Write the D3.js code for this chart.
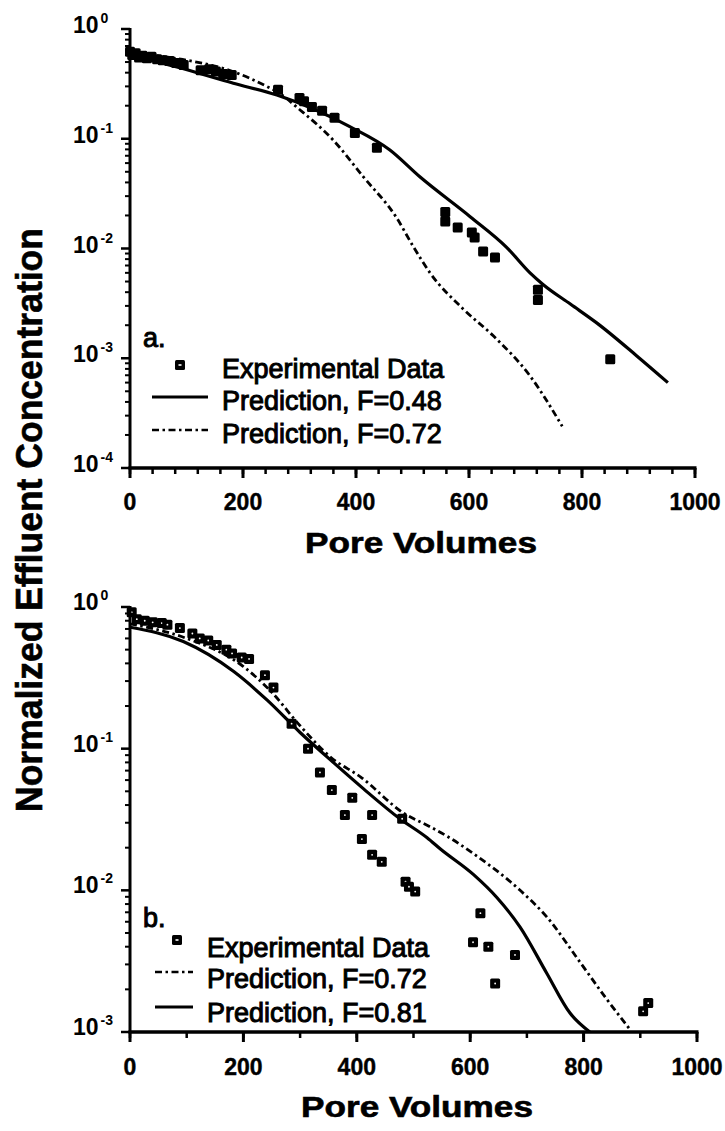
<!DOCTYPE html>
<html>
<head>
<meta charset="utf-8">
<script src="https://cdn.jsdelivr.net/npm/d3@7"></script>
<style>
  body { margin: 0; background: #fff; color: #000; }
  text { font-family: "Liberation Sans", Arial, sans-serif; fill: #000; }
</style>
</head>
<body>
<script>
// ---- data ----
// panel a
const aExpX = [0, 4, 10, 16, 22, 30, 38, 48, 58, 70, 82, 95, 125, 140, 152, 165, 180, 262, 300, 308, 322, 340, 362, 398, 437, 558, 558, 580, 605, 610, 625, 646, 722, 722, 850];
const aExpY = [0.62, 0.58, 0.6, 0.55, 0.57, 0.54, 0.56, 0.53, 0.52, 0.51, 0.49, 0.47, 0.42, 0.43, 0.41, 0.39, 0.38, 0.28, 0.235, 0.22, 0.195, 0.18, 0.155, 0.113, 0.083, 0.0215, 0.0176, 0.0155, 0.014, 0.0126, 0.0094, 0.0083, 0.0042, 0.0034, 0.00098];
const aF48X = [0, 83, 183, 260, 389, 460, 513, 602, 667, 708, 731, 780, 826, 897, 952];
const aF48Y = [0.58, 0.45, 0.32, 0.25, 0.129, 0.079, 0.045, 0.0195, 0.0102, 0.006, 0.0047, 0.0031, 0.0021, 0.00105, 0.0006];
const aF72X = [0, 50, 100, 182, 242, 262, 301, 359, 413, 472, 501, 531, 590, 643, 708, 765];
const aF72Y = [0.62, 0.57, 0.52, 0.41, 0.30, 0.265, 0.183, 0.098, 0.045, 0.019, 0.0105, 0.006, 0.0028, 0.0016, 0.00069, 0.00024];

// panel b
const bExpX = [3, 12, 26, 40, 56, 66, 88, 110, 123, 138, 153, 170, 180, 197, 210, 238, 253, 285, 314, 335, 356, 379, 392, 409, 427, 427, 444, 480, 486, 492, 503, 605, 618, 632, 644, 679, 905, 914];
const bExpY = [0.92, 0.82, 0.80, 0.78, 0.77, 0.75, 0.71, 0.65, 0.6, 0.58, 0.54, 0.5, 0.47, 0.44, 0.43, 0.33, 0.27, 0.15, 0.1, 0.068, 0.051, 0.034, 0.045, 0.023, 0.034, 0.0178, 0.0159, 0.032, 0.0115, 0.0106, 0.0098, 0.0043, 0.0069, 0.004, 0.0022, 0.0035, 0.0014, 0.0016];
const bF72X = [0, 100, 200, 250, 300, 354, 407, 483, 530, 560, 607, 688, 735, 794, 841, 882];
const bF72Y = [0.76, 0.6, 0.38, 0.25, 0.145, 0.087, 0.063, 0.035, 0.028, 0.024, 0.018, 0.01, 0.0065, 0.0031, 0.0017, 0.00104];
const bF81X = [0, 94, 183, 242, 300, 360, 412, 476, 524, 548, 606, 647, 688, 735, 776, 811];
const bF81Y = [0.72, 0.57, 0.35, 0.22, 0.13, 0.079, 0.052, 0.032, 0.0235, 0.0195, 0.0129, 0.0089, 0.0055, 0.0026, 0.00136, 0.001];

// axis ticks
const xMajor = [0, 200, 400, 600, 800, 1000];
const aXMinor = d3.range(0, 1001, 40);
const bXMinor = d3.range(0, 1001, 100);
const aDecades = [0, -1, -2, -3, -4];
const bDecades = [0, -1, -2, -3];
const legendA = ["Experimental Data", "Prediction, F=0.48", "Prediction, F=0.72"];
const legendB = ["Experimental Data", "Prediction, F=0.72", "Prediction, F=0.81"];

const width = 725, height = 1131;
const svg = d3.select("body").append("svg")
    .attr("width", width)
    .attr("height", height);

const zip = (xs, ys) => xs.map((x, i) => ({x: x, y: ys[i]}));
const dashDot = "7,3.5,2.5,3.5";
const axisJobs = [];   // axes get drawn last, on top

// black bar from (x1,y1) to (x2,y2), horizontal or vertical
function bar(g, x1, y1, x2, y2, w) {
    const horiz = Math.abs(y2 - y1) < Math.abs(x2 - x1);
    g.append("rect")
        .attr("x", horiz ? Math.min(x1, x2) : x1 - w / 2)
        .attr("y", horiz ? y1 - w / 2 : Math.min(y1, y2))
        .attr("width", horiz ? Math.abs(x2 - x1) : w)
        .attr("height", horiz ? w : Math.abs(y2 - y1))
        .attr("fill", "#000");
}

// draw one panel
function panel(opt) {
    const x = d3.scaleLinear().domain([0, 1000]).range(opt.xr);
    const y = d3.scaleLog().domain([Math.pow(10, d3.min(opt.decades)), 1]).range(opt.yr);
    const g = svg.append("g");
    const x0 = opt.xr[0], yb = opt.yr[0];

    const clipId = "clip" + opt.name;
    g.append("clipPath").attr("id", clipId)
      .append("rect")
        .attr("x", opt.xr[0]).attr("y", opt.yr[1] - 5)
        .attr("width", opt.xr[1] - opt.xr[0]).attr("height", opt.yr[0] - opt.yr[1] + 5);

    // y tick labels
    const majorY = opt.decades.map(d => Math.pow(10, d));
    majorY.forEach(v => {
        const e = Math.round(Math.log10(v));
        const t = g.append("text")
            .attr("x", 73)
            .attr("y", y(v) + opt.labDy)
            .style("font-size", "23px")
            .style("font-weight", "bold");
        t.append("tspan").text("10");
        t.append("tspan")
            .attr("dx", 2)
            .attr("dy", -10)
            .style("font-size", "14px")
            .text(e === 0 ? "0" : "-" + (-e));
    });

    // x tick labels
    xMajor.forEach(v => {
        g.append("text")
            .attr("x", x(v))
            .attr("y", yb + opt.xLabY)
            .attr("text-anchor", "middle")
            .style("font-size", "23px")
            .style("font-weight", "bold")
            .style("stroke", "#000").style("stroke-width", 0.4)
            .text(v);
    });

    // axis title
    g.append("text")
        .attr("x", opt.titleX)
        .attr("y", opt.titleY)
        .attr("text-anchor", "middle")
        .attr("textLength", 232)
        .attr("lengthAdjust", "spacingAndGlyphs")
        .style("font-size", "29px")
        .style("font-weight", "bold")
        .style("stroke", "#000").style("stroke-width", 0.6)
        .text("Pore Volumes");

    // curves
    const line = d3.line().x(d => x(d.x)).y(d => y(d.y)).curve(d3.curveMonotoneX);
    opt.curves.forEach(c => {
        g.append("path")
            .datum(zip(c.xs, c.ys))
            .attr("clip-path", `url(#${clipId})`)
            .attr("fill", "none")
            .attr("stroke", "#000")
            .attr("stroke-width", c.dash ? 2.8 : 3.2)
            .attr("stroke-linejoin", "round")
            .attr("stroke-dasharray", c.dash ? dashDot : null)
            .attr("d", line);
    });

    // experimental points
    const s = opt.markSize;
    const pts = g.append("g").selectAll("g")
        .data(zip(opt.expX, opt.expY))
        .join("g")
        .attr("transform", d => `translate(${x(d.x)},${y(d.y)})`);
    pts.append("rect")
        .attr("x", -s / 2).attr("y", -s / 2)
        .attr("width", s).attr("height", s)
        .attr("rx", 1.5)
        .attr("fill", "#000");
    if (opt.hollowDot) {
        pts.append("circle")
            .attr("r", 0.9)
            .attr("fill", "#fff");
    }

    // panel tag and legend
    const lg = g.append("g")
        .style("font-size", "27px");
    lg.append("text")
        .attr("x", 143).attr("y", opt.tagY)
        .style("stroke", "#000").style("stroke-width", 1)
        .text(opt.tag);
    opt.legend.forEach((lab, i) => {
        lg.append("text")
            .attr("x", opt.legX).attr("y", opt.legY[i])
            .style("stroke", "#000").style("stroke-width", 1)
            .text(lab);
    });
    const mk = lg.append("g").attr("transform", `translate(${opt.legMark[0]},${opt.legMark[1]})`);
    mk.append("rect").attr("x", -s / 2).attr("y", -s / 2).attr("width", s).attr("height", s).attr("rx", 1.5).attr("fill", "#000");
    mk.append("rect").attr("x", -1.5).attr("y", -0.8).attr("width", 3).attr("height", 1.6).attr("fill", "#fff");
    opt.legLines.forEach(l => {
        lg.append("line")
            .attr("x1", l.x1).attr("x2", l.x2)
            .attr("y1", l.y).attr("y2", l.y)
            .attr("stroke", "#000")
            .attr("stroke-width", l.dash ? 2.5 : 3)
            .attr("stroke-dasharray", l.dash ? dashDot : null);
    });

    // axes: lines and ticks, queued to be drawn on top
    axisJobs.push(() => {
        const ax = svg.append("g").attr("class", "axes-" + opt.name);
        const minorY = [];
        opt.decades.slice(1).forEach(d => {
            for (let k = 2; k <= 9; k++) minorY.push(k * Math.pow(10, d));
        });
        minorY.forEach(v => bar(ax, x0 - 5, y(v), x0, y(v), 2));
        majorY.forEach(v => bar(ax, x0 - 9, y(v), x0, y(v), 2.5));
        bar(ax, x0, y(1) - 1, x0, yb, 3);
        opt.xMinor.forEach(v => bar(ax, x(v), yb, x(v), yb + 6, 2.5));
        xMajor.forEach(v => bar(ax, x(v), yb, x(v), yb + 10, 3));
        bar(ax, x0 - 1.5, yb, opt.xr[1] + 1.5, yb, 3.5);
    });
}

panel({
    name: "a",
    xr: [130, 695], yr: [468, 29],
    decades: aDecades, xMinor: aXMinor,
    labDy: 4, xLabY: 42,
    titleX: 421, titleY: 553,
    curves: [{xs: aF48X, ys: aF48Y, dash: false}, {xs: aF72X, ys: aF72Y, dash: true}],
    expX: aExpX, expY: aExpY, markSize: 10, hollowDot: false,
    tag: "a.", tagY: 347,
    legend: legendA, legX: 222, legY: [378, 410, 443],
    legMark: [180, 365],
    legLines: [{x1: 152, x2: 208, y: 397, dash: false}, {x1: 152, x2: 208, y: 430, dash: true}]
});

panel({
    name: "b",
    xr: [130, 697], yr: [1032, 607],
    decades: bDecades, xMinor: bXMinor,
    labDy: 3, xLabY: 43,
    titleX: 417, titleY: 1117,
    curves: [{xs: bF72X, ys: bF72Y, dash: true}, {xs: bF81X, ys: bF81Y, dash: false}],
    expX: bExpX, expY: bExpY, markSize: 10, hollowDot: true,
    tag: "b.", tagY: 927,
    legend: legendB, legX: 207, legY: [957, 988, 1022],
    legMark: [177, 940],
    legLines: [{x1: 155, x2: 193, y: 972, dash: true}, {x1: 155, x2: 193, y: 1007, dash: false}]
});

// shared y title
svg.append("text")
    .attr("transform", "translate(42,520) rotate(-90)")
    .attr("text-anchor", "middle")
    .attr("textLength", 584)
    .attr("lengthAdjust", "spacingAndGlyphs")
    .style("font-size", "36px")
    .style("font-weight", "bold")
    .style("stroke", "#000").style("stroke-width", 0.6)
    .text("Normalized Effluent Concentration");

axisJobs.forEach(f => f());
</script>
</body>
</html>
